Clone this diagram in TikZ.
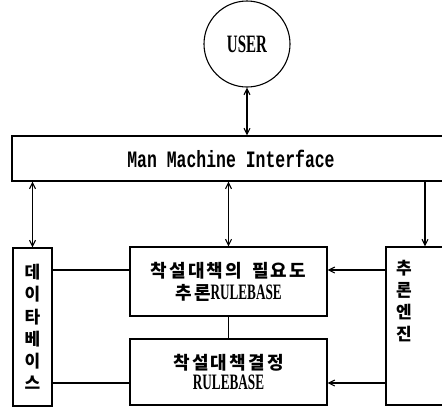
\documentclass[tikz,border=0pt]{standalone}
\usepackage{fontspec}
\usetikzlibrary{arrows.meta,calc}
\newfontfamily\krf{Noto Sans CJK KR}[LetterSpace=12]
\newfontfamily\krv{Noto Sans CJK KR}
\newfontfamily\rbf{Liberation Serif}[FakeStretch=0.6]
\newfontfamily\mmf{Liberation Mono}[FakeStretch=0.7]
\tikzset{
  boxst/.style={draw, rectangle, inner sep=0pt, align=center},
  conn/.style={line width=1.1pt},
  arr/.style={conn, -{Straight Barb[length=6pt,width=6pt]}},
  darr/.style={conn, {Straight Barb[length=6pt,width=6pt]}-{Straight Barb[length=6pt,width=6pt]}},
  krtext/.style={font=\fontsize{18}{23}\selectfont\krf\bfseries},
}
\begin{document}
\begin{tikzpicture}[x=1pt,y=-1pt,line width=1.1pt]
\useasboundingbox (0,0) rectangle (442,408);
\node[draw, circle, minimum size=86pt, inner sep=0pt, font=\fontsize{25}{26}\selectfont\rbf\bfseries] (user) at (247,44) {USER};
\node[boxst, minimum width=438pt, minimum height=45pt, font=\fontsize{23.5}{24}\selectfont\mmf\bfseries] (mmi) at (231,158.5) {Man Machine Interface};
\node[boxst, minimum width=39pt, minimum height=158pt, font=\fontsize{17}{22.2}\selectfont\krv\bfseries] (db) at (32.5,327) {데\\이\\타\\베\\이\\스};
\node[boxst, minimum width=64pt, minimum height=158pt] (eng) at (418,326) {};
\node[inner sep=0pt, align=center, font=\fontsize{17}{21.7}\selectfont\krv\bfseries] (engl) at (404,301) {추\\론\\엔\\진};
\node[boxst, minimum width=197pt, minimum height=69pt, krtext] (r1) at (228.5,281.5) {착설대책의\kern10pt 필요도\\[-1pt]추론{\rbf\fontsize{22}{23}\selectfont RULEBASE}};
\node[boxst, minimum width=197pt, minimum height=66pt, krtext] (r2) at (228.5,372) {착설대책결정\\[-3pt]{\rbf\fontsize{22}{23}\selectfont RULEBASE}};
\coordinate (ea) at (425,0);
\coordinate (ya) at (0,270);
\coordinate (yb) at (0,383);
\draw[darr] (user.south) -- (mmi.north -| user.south);
\draw[darr] (mmi.south -| db.north) -- (db.north);
\draw[darr] (mmi.south -| r1.north) -- (r1.north);
\draw[arr] (mmi.south -| ea) -- (eng.north -| ea);
\draw[conn] (db.east |- ya) -- (r1.west |- ya);
\draw[arr] (eng.west |- ya) -- (r1.east |- ya);
\draw[conn] (r1.south) -- (r2.north);
\draw[conn] (db.east |- yb) -- (r2.west |- yb);
\draw[arr] (eng.west |- yb) -- (r2.east |- yb);
\end{tikzpicture}
\end{document}
